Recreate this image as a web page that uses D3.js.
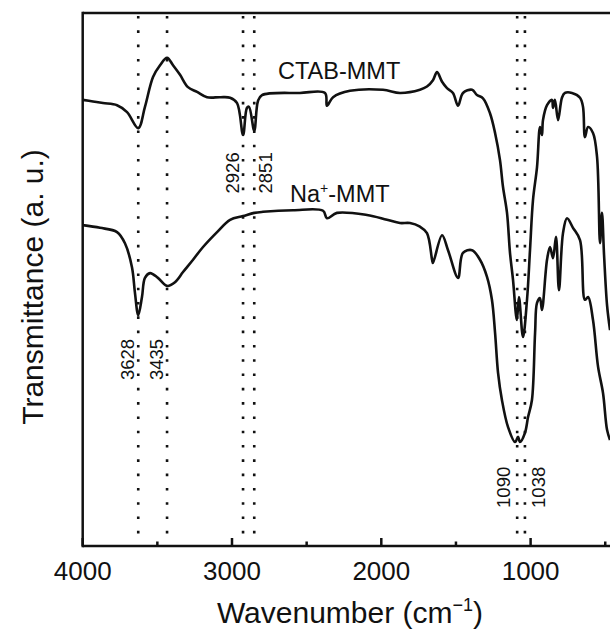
<!DOCTYPE html>
<meta charset="utf-8">
<style>
body { margin: 0; background: #fff; }
svg { display: block; }
text { font-family: "Liberation Sans", Arial, sans-serif; fill: #111; }
.frame { stroke: #111; stroke-width: 2.5px; fill: none; }
.spectrum { stroke: #111; stroke-width: 2.6px; fill: none; stroke-linejoin: round; }
.peakline { stroke: #111; stroke-width: 2.6px; stroke-dasharray: 2.6, 11.7; }
</style>
<svg width="610" height="632"></svg>
<script src="https://d3js.org/d3.v7.min.js"></script>
<script>

// CTAB-MMT spectrum (wavenumber, transmittance a.u.)
var ctabWave = [4000, 3931, 3864, 3770, 3703, 3628, 3583, 3529, 3482, 3435, 3395, 3348, 3295, 3234, 3167, 3080, 3013, 2966, 2926, 2900, 2886, 2851, 2826, 2799,
  2545, 2377, 2364, 2323, 2210, 1989, 1875, 1741, 1694, 1654, 1627, 1593, 1560, 1520, 1486, 1453, 1392, 1359, 1319, 1272, 1238, 1205, 1185, 1158, 1138, 1118,
  1092, 1078, 1051, 1024, 1004, 984, 957, 937, 924, 917, 890, 857, 850, 837, 816, 790, 770, 723, 669, 649, 636, 615, 582, 555, 535, 522, 508, 488, 468];
var ctabT = [83.7, 83.4, 83.1, 82.7, 81.4, 78.4, 82.4, 88.0, 90.2, 91.6, 90.2, 88.4, 86.1, 85.2, 84.2, 84.2, 84.1, 83.1, 77.1, 82.2, 82.4, 77.9, 83.5, 84.6,
  85.0, 85.0, 82.6, 84.2, 85.4, 85.6, 85.0, 85.6, 86.2, 87.4, 88.9, 87.1, 85.9, 85.0, 82.6, 85.0, 85.6, 84.6, 84.0, 81.2, 77.5, 72.4, 67.4, 62.5, 55.0, 50.0,
  42.4, 46.7, 39.2, 46.2, 55.5, 64.9, 71.1, 78.6, 77.1, 79.9, 82.7, 83.7, 82.2, 83.7, 79.9, 84.1, 85.0, 85.0, 84.1, 82.4, 76.7, 78.6, 77.5, 73.0, 56.8, 62.5, 54.6, 45.2, 40.5];

// Na+-MMT spectrum
var naWave = [4000, 3884, 3770, 3717, 3670, 3650, 3628, 3603, 3583, 3549, 3496, 3435, 3382, 3328, 3261, 3194, 3100, 3013, 2926, 2851, 2792, 2591, 2390, 2364,
  2297, 2096, 1962, 1875, 1808, 1741, 1694, 1660, 1654, 1593, 1553, 1486, 1453, 1392, 1339, 1292, 1259, 1238, 1218, 1192, 1151, 1104, 1084, 1071, 1038, 1017,
  991, 970, 957, 937, 924, 890, 870, 850, 830, 810, 783, 756, 716, 669, 636, 615, 582, 548, 515, 488, 468];
var naT = [60.2, 59.7, 58.9, 56.8, 52.3, 47.5, 43.3, 46.7, 50.3, 51.2, 50.3, 48.8, 49.5, 51.4, 53.7, 56.1, 58.9, 61.2, 61.9, 62.5, 62.7, 63.0, 62.9, 61.5,
  62.5, 62.1, 61.2, 60.6, 60.6, 59.9, 58.7, 53.7, 53.1, 58.3, 55.5, 50.3, 55.0, 55.5, 53.7, 50.5, 46.2, 40.0, 32.5, 27.4, 22.3, 19.5, 20.5, 19.5, 21.2, 24.2,
  27.4, 40.0, 45.6, 46.5, 44.3, 53.7, 56.1, 54.0, 58.0, 48.0, 58.7, 61.5, 59.7, 57.4, 46.2, 46.7, 42.4, 33.6, 28.7, 21.8, 19.9];

// marked bands
var peaks = [3628, 3435, 2926, 2851, 1090, 1038];
var peakSide = [-1, -1, -1, 1, -1, 1];
var peakLabelT = [35, 35, 70, 70, 11, 11];

var majorTicks = [4000, 3000, 2000, 1000];
var minorTicks = [3500, 2500, 1500, 500];

var svg = d3.select("svg");
var plotL = 82.7, plotT = 13, plotB = 546;

var x = d3.scaleLinear().domain([4000, 400]).range([plotL, plotL + 3600 * 0.1493]);
var y = d3.scaleLinear().domain([0, 100]).range([plotB, plotT]);

// dotted marker lines
svg.append("g").selectAll("line")
  .data(peaks).enter()
  .append("line")
    .attr("class", "peakline")
    .attr("x1", function(d) { return x(d); })
    .attr("x2", function(d) { return x(d); })
    .attr("y1", plotT + 3)
    .attr("y2", plotB);

svg.append("g").selectAll("text")
  .data(peaks).enter()
  .append("text")
    .attr("transform", function(d, i) {
      var off = (i >= 4 ? 14 : 11) * peakSide[i];
      return "translate(" + (x(d) + off) + "," + y(peakLabelT[i]) + ") rotate(-90)";
    })
    .attr("text-anchor", "middle")
    .attr("dy", "0.35em")
    .style("font-size", "18.5px")
    .text(function(d) { return d; });

// spectra
var line = d3.line()
  .x(function(d) { return x(d[0]); })
  .y(function(d) { return y(d[1]); })
  .curve(d3.curveCatmullRom.alpha(0.5));

svg.append("path").attr("class", "spectrum")
  .attr("d", line(d3.zip(ctabWave, ctabT)));
svg.append("path").attr("class", "spectrum")
  .attr("d", line(d3.zip(naWave, naT)));

// frame
svg.append("line").attr("class", "frame")
  .attr("x1", plotL).attr("x2", 610).attr("y1", plotT).attr("y2", plotT);
svg.append("line").attr("class", "frame")
  .attr("x1", plotL).attr("x2", plotL).attr("y1", plotT - 1.2).attr("y2", plotB + 1.2);

var xAxis = svg.append("g").attr("transform", "translate(0," + plotB + ")");
xAxis.append("line").attr("class", "frame").attr("x1", plotL).attr("x2", 610);
xAxis.selectAll(".major").data(majorTicks).enter().append("line")
  .attr("class", "frame major")
  .attr("x1", function(d) { return x(d); }).attr("x2", function(d) { return x(d); })
  .attr("y1", 0).attr("y2", -8);
xAxis.selectAll(".minor").data(minorTicks).enter().append("line")
  .attr("class", "frame minor")
  .attr("x1", function(d) { return x(d); }).attr("x2", function(d) { return x(d); })
  .attr("y1", 0).attr("y2", -4.5);
xAxis.selectAll("text").data(majorTicks).enter().append("text")
  .attr("x", function(d) { return x(d); })
  .attr("y", 34)
  .attr("text-anchor", "middle")
  .style("font-size", "26px")
  .text(function(d) { return d; });

// axis titles
var xt = svg.append("text")
  .attr("x", 350).attr("y", 623)
  .attr("text-anchor", "middle")
  .style("font-size", "30px");
xt.append("tspan").text("Wavenumber (cm");
xt.append("tspan").attr("dy", -12).style("font-size", "18px").text("\u22121");
xt.append("tspan").attr("dy", 12).text(")");

svg.append("text")
  .attr("transform", "translate(43,287) rotate(-90)")
  .attr("text-anchor", "middle")
  .style("font-size", "30px")
  .text("Transmittance (a. u.)");

// curve labels
svg.append("text")
  .attr("x", 278).attr("y", 79)
  .style("font-size", "23.5px")
  .text("CTAB-MMT");

var na = svg.append("text")
  .attr("x", 290).attr("y", 202)
  .style("font-size", "23.5px");
na.append("tspan").text("Na");
na.append("tspan").attr("dy", -9).style("font-size", "14px").text("+");
na.append("tspan").attr("dy", 9).text("-MMT");
</script>
